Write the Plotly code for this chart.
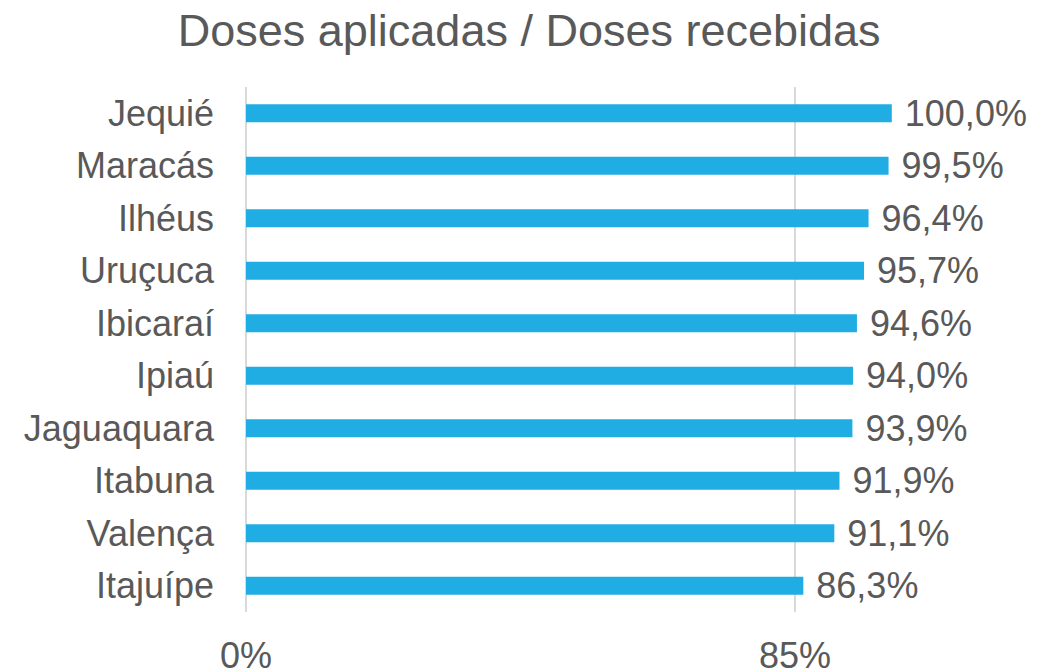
import plotly.graph_objects as go

categories = ["Jequié", "Maracás", "Ilhéus", "Uruçuca", "Ibicaraí", "Ipiaú",
              "Jaguaquara", "Itabuna", "Valença", "Itajuípe"]
values = [100.0, 99.5, 96.4, 95.7, 94.6, 94.0, 93.9, 91.9, 91.1, 86.3]
labels = ["100,0%", "99,5%", "96,4%", "95,7%", "94,6%", "94,0%", "93,9%",
          "91,9%", "91,1%", "86,3%"]
tick_vals = [0, 85]
tick_text = ["0%", "85%"]

FONT = "Liberation Sans, Arial, sans-serif"
GREY = "#595959"

fig = go.Figure(go.Bar(
    x=values, y=categories, orientation="h",
    marker=dict(color="#1FADE4", line=dict(width=0)),
    text=[" " + t for t in labels], textposition="outside",
    textfont=dict(family=FONT, size=36, color=GREY),
    constraintext="none",
    cliponaxis=False, width=0.34,
))

fig.update_layout(
    width=1032, height=663,
    paper_bgcolor="white", plot_bgcolor="white",
    margin=dict(l=238, r=10, t=79, b=59, autoexpand=False),
    title=dict(text="Doses aplicadas / Doses recebidas", x=0.505, xanchor="center",
               y=0.967, yanchor="middle",
               font=dict(family=FONT, size=45, color=GREY)),
    showlegend=False,
    xaxis=dict(range=[0, 121.4], tickvals=tick_vals, ticktext=tick_text,
               showgrid=True, gridcolor="#D9D9D9", gridwidth=2,
               zeroline=True, zerolinecolor="#D9D9D9", zerolinewidth=2,
               showline=False, ticks="", ticklabelstandoff=19, automargin=False,
               tickfont=dict(family=FONT, size=36, color=GREY)),
    yaxis=dict(categoryorder="array", categoryarray=categories[::-1],
               range=[-0.5, 9.5], showgrid=False, zeroline=False, showline=False,
               ticks="", ticklabelstandoff=31, automargin=False,
               tickfont=dict(family=FONT, size=36, color=GREY)),
)

fig.write_html("out.html")
